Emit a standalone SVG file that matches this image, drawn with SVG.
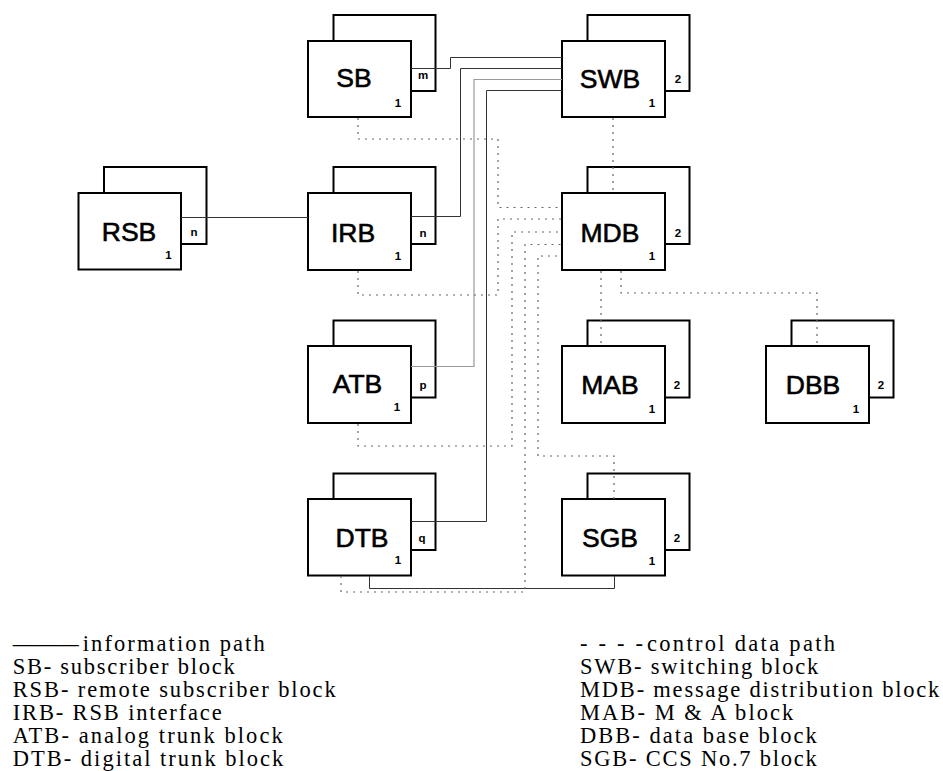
<svg xmlns="http://www.w3.org/2000/svg" width="943" height="771" viewBox="0 0 943 771">
<style>
  .bk { fill: #fff; stroke: #000; stroke-width: 2; }
  .fr { fill: #fff; stroke: #000; stroke-width: 2; }
  .lbl { font-family: "Liberation Sans", Arial, sans-serif; font-size: 26.5px; font-weight: normal; text-anchor: middle; fill: #000; stroke: #000; stroke-width: 0.6; }
  .sm { font-family: "Liberation Sans", Arial, sans-serif; font-size: 11.5px; font-weight: bold; text-anchor: middle; fill: #000; }
  .info { fill: none; stroke: #333; stroke-width: 1; }
  .info2 { fill: none; stroke: #999; stroke-width: 1.2; }
  .ctrl { fill: none; stroke: #666; stroke-width: 1.2; stroke-dasharray: 2 5; }
</style>

<g id="SB">
  <rect class="bk" x="333.5" y="15" width="102" height="76"/>
  <rect class="fr" x="308" y="41" width="103" height="76"/>
  <text class="lbl" x="354" y="87">SB</text>
  <text class="sm" x="423" y="79">m</text>
  <text class="sm" x="398" y="107">1</text>
</g>
<g id="SWB">
  <rect class="bk" x="587.5" y="15" width="102" height="76"/>
  <rect class="fr" x="562" y="41" width="103" height="76"/>
  <text class="lbl" x="610" y="88">SWB</text>
  <text class="sm" x="678" y="83">2</text>
  <text class="sm" x="652" y="107">1</text>
</g>
<g id="RSB">
  <rect class="bk" x="104" y="167" width="102.5" height="77"/>
  <rect class="fr" x="78.5" y="193" width="102.5" height="76.5"/>
  <text class="lbl" x="129" y="241">RSB</text>
  <text class="sm" x="194" y="236">n</text>
  <text class="sm" x="168.5" y="259">1</text>
</g>
<g id="IRB">
  <rect class="bk" x="333.5" y="167" width="102" height="77"/>
  <rect class="fr" x="308" y="193" width="103" height="77"/>
  <text class="lbl" x="353" y="242">IRB</text>
  <text class="sm" x="423" y="237">n</text>
  <text class="sm" x="398" y="260">1</text>
</g>
<g id="MDB">
  <rect class="bk" x="587.5" y="167" width="102" height="77"/>
  <rect class="fr" x="562" y="193" width="103" height="77"/>
  <text class="lbl" x="610" y="242">MDB</text>
  <text class="sm" x="678" y="237">2</text>
  <text class="sm" x="652" y="260">1</text>
</g>
<g id="ATB">
  <rect class="bk" x="333.5" y="320.5" width="102" height="77"/>
  <rect class="fr" x="308" y="346" width="103" height="77"/>
  <text class="lbl" x="357.5" y="393">ATB</text>
  <text class="sm" x="423" y="389">p</text>
  <text class="sm" x="397" y="411">1</text>
</g>
<g id="MAB">
  <rect class="bk" x="587.5" y="320.5" width="102" height="77"/>
  <rect class="fr" x="562" y="346" width="103" height="77"/>
  <text class="lbl" x="610" y="394">MAB</text>
  <text class="sm" x="677" y="389">2</text>
  <text class="sm" x="652" y="413">1</text>
</g>
<g id="DBB">
  <rect class="bk" x="791.5" y="320.5" width="102" height="77"/>
  <rect class="fr" x="766" y="346" width="103" height="77"/>
  <text class="lbl" x="813" y="394">DBB</text>
  <text class="sm" x="881" y="389">2</text>
  <text class="sm" x="856" y="413">1</text>
</g>
<g id="DTB">
  <rect class="bk" x="333.5" y="473.5" width="102" height="76.5"/>
  <rect class="fr" x="308" y="499" width="103" height="76.5"/>
  <text class="lbl" x="362" y="547">DTB</text>
  <text class="sm" x="422" y="542">q</text>
  <text class="sm" x="398" y="564">1</text>
</g>
<g id="SGB">
  <rect class="bk" x="587.5" y="473.5" width="102" height="76.5"/>
  <rect class="fr" x="562" y="499" width="103" height="76.5"/>
  <text class="lbl" x="610" y="547">SGB</text>
  <text class="sm" x="677" y="542">2</text>
  <text class="sm" x="652" y="565">1</text>
</g>

<g id="connectors">
  <path class="info" d="M411,68.5 H450.5 V57.5 H562"/>
  <path class="info" d="M411,216.5 H460.5 V68.5 H562"/>
  <path class="info2" d="M411,366.5 H474 V79.5 H562"/>
  <path class="info" d="M411,521.5 H486.5 V90.5 H562"/>
  <path class="info" d="M181,217.5 H308"/>
  <path class="info" d="M369.5,576 V588.5 H614.5 V576"/>

  <path class="ctrl" d="M358,118 V139 H498 V207.5 H562"/>
  <path class="ctrl" d="M358,271 V295 H498 V219 H562"/>
  <path class="ctrl" d="M358,424 V446 H512 V232 H562"/>
  <path class="ctrl" d="M341,576 V592 H525 V244.5 H562"/>
  <path class="ctrl" d="M614,499 V456 H538 V256 H562"/>
  <path class="ctrl" d="M613,118 V193"/>
  <path class="ctrl" d="M601,271 V346"/>
  <path class="ctrl" d="M621,271 V293 H817 V346"/>
</g>

<g id="legend" font-family="'Liberation Serif', 'Times New Roman', serif" font-size="22.5" fill="#000">
  <text y="650.5"><tspan x="12.7" textLength="66" lengthAdjust="spacingAndGlyphs">———</tspan> <tspan x="82.7" textLength="182" lengthAdjust="spacing">information path</tspan></text>
  <text x="12.7" y="673.6" textLength="222" lengthAdjust="spacing">SB- subscriber block</text>
  <text x="12.7" y="696.7" textLength="323" lengthAdjust="spacing">RSB- remote subscriber block</text>
  <text x="12.7" y="719.8" textLength="209" lengthAdjust="spacing">IRB- RSB interface</text>
  <text x="12.7" y="742.9" textLength="270" lengthAdjust="spacing">ATB- analog trunk block</text>
  <text x="12.7" y="766" textLength="270.6" lengthAdjust="spacing">DTB- digital trunk block</text>

  <text y="650.5"><tspan x="580" textLength="63" lengthAdjust="spacing">- - - -</tspan> <tspan x="647" textLength="188" lengthAdjust="spacing">control data path</tspan></text>
  <text x="580" y="673.6" textLength="238.3" lengthAdjust="spacing">SWB- switching block</text>
  <text x="580" y="696.7" textLength="359.3" lengthAdjust="spacing">MDB- message distribution block</text>
  <text x="580" y="719.8" textLength="213.3" lengthAdjust="spacing">MAB- M &amp; A block</text>
  <text x="580" y="742.9" textLength="236.7" lengthAdjust="spacing">DBB- data base block</text>
  <text x="580" y="766" textLength="236.7" lengthAdjust="spacing">SGB- CCS No.7 block</text>
</g>
</svg>
